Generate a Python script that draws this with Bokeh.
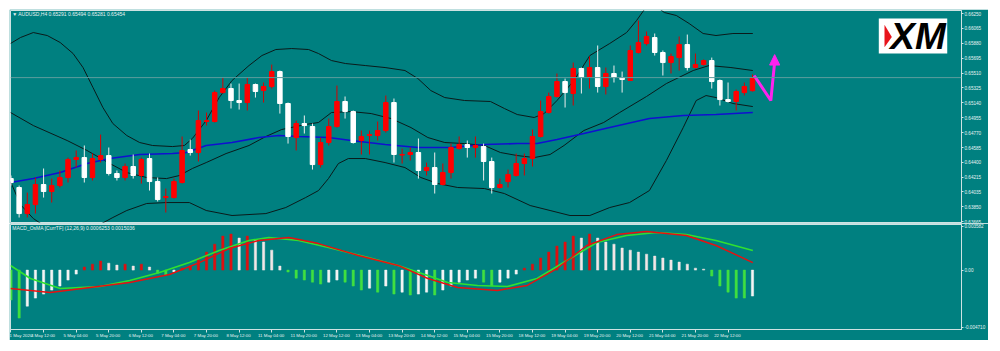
from bokeh.plotting import figure
from bokeh.layouts import column
from bokeh.models import Range1d, FixedTicker, Span, Label, AllLabels, NumeralTickFormatter
from bokeh.embed import file_html
from bokeh.resources import INLINE

# ---------------- data ----------------
opens = [0.64199,0.64088,0.63764,0.63876,0.64125,0.64038,0.64112,0.64212,0.64436,0.64460,
0.64212,0.64436,0.64485,0.64262,0.64212,0.64349,0.64237,0.64448,0.64162,0.63963,
0.63963,0.64150,0.64560,0.64523,0.64908,0.64908,0.65268,0.65318,0.65169,0.65144,
0.65368,0.65293,0.65343,0.65529,0.65132,0.64709,0.64883,0.64846,0.64373,0.64647,
0.64846,0.65157,0.65032,0.64672,0.64734,0.64734,0.64796,0.65144,0.64491,0.64498,
0.64523,0.64299,0.64336,0.64125,0.64274,0.64572,0.64622,0.64585,0.64597,0.64411,
0.64088,0.64162,0.64237,0.64386,0.64448,0.64722,0.65020,0.65219,0.65405,0.65256,
0.65567,0.65455,0.65579,0.65343,0.65505,0.65455,0.65418,0.65766,0.65878,0.65952,
0.65766,0.65641,0.65703,0.65865,0.65579,0.65616,0.65666,0.65418,0.65181,0.65157,
0.65268,0.65291]
highs = [0.64237,0.64112,0.64025,0.64212,0.64324,0.64199,0.64299,0.64460,0.64548,0.64610,
0.64510,0.64746,0.64585,0.64299,0.64386,0.64498,0.64460,0.64510,0.64212,0.64075,
0.64199,0.64722,0.64684,0.65045,0.65020,0.65293,0.65455,0.65380,0.65380,0.65455,
0.65380,0.65393,0.65616,0.65542,0.65144,0.64920,0.64983,0.64883,0.64709,0.64945,
0.65355,0.65219,0.65045,0.64796,0.64796,0.64908,0.65231,0.65194,0.64572,0.64585,
0.64697,0.64398,0.64523,0.64386,0.64634,0.64722,0.64672,0.64722,0.64634,0.64460,
0.64199,0.64311,0.64510,0.64510,0.64809,0.65169,0.65268,0.65505,0.65442,0.65641,
0.65579,0.65716,0.65853,0.65579,0.65604,0.65529,0.65853,0.66163,0.66027,0.66002,
0.65791,0.65753,0.65965,0.65989,0.65753,0.65679,0.65703,0.65430,0.65393,0.65306,
0.65393,0.65494]
lows = [0.64112,0.63715,0.63715,0.63764,0.63963,0.63901,0.64088,0.64150,0.64336,0.64150,
0.64175,0.64398,0.64237,0.64175,0.64175,0.64199,0.64137,0.64050,0.63914,0.63777,
0.63951,0.64137,0.64485,0.64411,0.64858,0.64896,0.65256,0.65070,0.65057,0.65045,
0.65206,0.65144,0.65318,0.65007,0.64634,0.64548,0.64759,0.64311,0.64336,0.64610,
0.64833,0.64945,0.64634,0.64498,0.64498,0.64672,0.64771,0.64398,0.64386,0.64423,
0.64199,0.64237,0.64013,0.64112,0.64199,0.64560,0.64460,0.64460,0.64175,0.64013,
0.64075,0.64088,0.64224,0.64237,0.64349,0.64709,0.65007,0.65206,0.65082,0.65107,
0.65256,0.65318,0.65268,0.65244,0.65393,0.65268,0.65418,0.65753,0.65853,0.65728,
0.65480,0.65505,0.65542,0.65542,0.65567,0.65604,0.65318,0.65107,0.65144,0.65045,
0.65231,0.65281]
closes = [0.64150,0.63764,0.63876,0.64125,0.64038,0.64112,0.64212,0.64436,0.64460,0.64212,
0.64448,0.64485,0.64262,0.64212,0.64349,0.64237,0.64436,0.64162,0.63938,0.63976,
0.64162,0.64548,0.64523,0.64920,0.64920,0.65268,0.65318,0.65169,0.65144,0.65368,
0.65281,0.65343,0.65529,0.65132,0.64722,0.64883,0.64858,0.64373,0.64647,0.64846,
0.65157,0.65032,0.64647,0.64722,0.64746,0.64796,0.65144,0.64498,0.64498,0.64523,
0.64299,0.64336,0.64125,0.64274,0.64585,0.64622,0.64585,0.64610,0.64411,0.64088,
0.64125,0.64249,0.64386,0.64448,0.64722,0.65032,0.65219,0.65405,0.65268,0.65567,
0.65455,0.65579,0.65343,0.65505,0.65455,0.65430,0.65791,0.65890,0.65965,0.65766,
0.65641,0.65716,0.65865,0.65579,0.65616,0.65666,0.65405,0.65181,0.65157,0.65281,
0.65343,0.65454]

upper_x = [-0.06,1.16,2.74,4.45,6.04,7.62,8.84,10.06,11.28,12.5,14.21,15.79,17.38,19.82,21.28,22.26,23.96,25.55,27.13,29.21,30.79,32.5,34.45,36.52,37.74,39.33,41.04,43.48,45.91,48.35,49.94,51.52,53.23,55.67,58.84,60.55,62.13,64.21,65.43,67.01,69.09,71.04,73.48,75.55,76.77,77.99,79.21,80.18,81.65,83.23,84.94,86.52,88.6,91.04]
upper_y = [0.65878,0.65952,0.66014,0.65977,0.65890,0.65753,0.65579,0.65331,0.65082,0.64883,0.64734,0.64647,0.64610,0.64597,0.64610,0.64697,0.64920,0.65206,0.65418,0.65604,0.65728,0.65803,0.65815,0.65803,0.65753,0.65666,0.65629,0.65604,0.65579,0.65542,0.65442,0.65293,0.65206,0.65169,0.65157,0.65070,0.64995,0.64958,0.65007,0.65169,0.65418,0.65728,0.65878,0.66014,0.66163,0.66337,0.66337,0.66263,0.66226,0.66126,0.66002,0.65977,0.66002,0.66002]
middle_x = [-0.06,2.74,6.89,9.33,12.13,14.21,16.65,19.09,20.67,22.26,23.96,26.4,29.21,31.28,33.23,36.16,37.74,39.33,41.77,44.21,46.65,49.09,51.16,53.23,55.67,58.11,60.06,62.13,64.21,66.16,67.87,70.3,72.74,74.7,77.99,80.43,83.72,85.67,88.35,91.04]
middle_y = [0.65020,0.64858,0.64672,0.64548,0.64386,0.64274,0.64212,0.64199,0.64237,0.64324,0.64398,0.64510,0.64610,0.64722,0.64809,0.64871,0.64896,0.65020,0.65032,0.65007,0.64945,0.64833,0.64709,0.64647,0.64634,0.64610,0.64523,0.64485,0.64460,0.64498,0.64610,0.64796,0.64896,0.65020,0.65219,0.65380,0.65542,0.65604,0.65579,0.65542]
lower_x = [-0.06,1.16,2.74,4.21,6.04,9.33,10.91,12.5,14.21,16.65,19.09,21.89,23.96,27.13,31.28,33.72,36.16,37.74,38.96,40.18,41.4,43.48,45.91,48.35,50.3,52.38,54.82,58.11,60.55,63.72,66.16,68.6,71.04,73.48,75.91,78.35,80.43,82.5,84.09,85.3,86.52,88.6,91.04]
lower_y = [0.64162,0.63876,0.63702,0.63603,0.63528,0.63528,0.63628,0.63715,0.63802,0.63889,0.63901,0.63901,0.63802,0.63740,0.63764,0.63839,0.63963,0.64050,0.64199,0.64386,0.64448,0.64448,0.64398,0.64336,0.64212,0.64137,0.64088,0.64075,0.64013,0.63864,0.63802,0.63740,0.63740,0.63839,0.63901,0.64050,0.64423,0.64833,0.65169,0.65231,0.65206,0.65132,0.65094]
ma_x = [-0.06,2.74,6.04,9.33,12.13,15.79,19.82,21.52,23.96,27.13,30.43,32.87,35.3,38.96,41.77,45.91,49.94,53.96,58.11,62.13,64.57,67.01,70.3,73.48,78.35,82.5,86.52,91.04]
ma_y = [0.64150,0.64199,0.64274,0.64386,0.64448,0.64498,0.64510,0.64523,0.64610,0.64647,0.64709,0.64734,0.64722,0.64709,0.64672,0.64622,0.64585,0.64585,0.64622,0.64634,0.64634,0.64684,0.64759,0.64833,0.64945,0.64983,0.64995,0.65020]

hist = [-0.00246,-0.00394,-0.00296,-0.00230,-0.00197,-0.00164,-0.00131,-0.00082,-0.00033,0.00025,
0.00049,0.00074,0.00057,0.00041,0.00049,0.00033,0.00049,0.00025,-0.00025,-0.00041,
-0.00016,0.00016,0.00033,0.00099,0.00148,0.00213,0.00279,0.00296,0.00263,0.00279,
0.00246,0.00230,0.00164,0.00033,-0.00016,-0.00066,-0.00082,-0.00099,-0.00115,-0.00099,
-0.00082,-0.00099,-0.00131,-0.00164,-0.00148,-0.00181,-0.00131,-0.00197,-0.00181,-0.00205,
-0.00197,-0.00181,-0.00205,-0.00164,-0.00131,-0.00099,-0.00082,-0.00066,-0.00099,-0.00131,
-0.00099,-0.00066,-0.00033,0.00016,0.00049,0.00099,0.00148,0.00197,0.00230,0.00279,
0.00263,0.00296,0.00263,0.00230,0.00213,0.00181,0.00164,0.00148,0.00131,0.00115,
0.00099,0.00082,0.00066,0.00049,0.00016,0.00008,-0.00049,-0.00131,-0.00181,-0.00230,
-0.00230,-0.00213]
green_x = [-0.06,2.38,6.04,10.91,14.57,18.23,21.89,25.55,29.21,31.65,35.3,38.96,43.84,47.5,51.16,53.6,57.26,60.91,64.57,68.23,71.89,75.55,79.21,82.87,86.52,91.04]
green_y = [0.00038,-0.00069,-0.00151,-0.00135,-0.00085,-0.00020,0.00062,0.00161,0.00243,0.00268,0.00243,0.00186,0.00103,0.00038,-0.00044,-0.00102,-0.00126,-0.00135,-0.00069,0.00079,0.00227,0.00284,0.00309,0.00292,0.00243,0.00161]
red_x = [-0.06,4.82,9.7,14.57,19.45,23.11,26.77,30.43,34.09,37.74,42.62,47.5,51.16,54.82,59.7,63.35,67.01,70.67,74.33,77.99,82.87,86.52,91.04]
red_y = [-0.00151,-0.00184,-0.00143,-0.00102,-0.00036,0.00062,0.00177,0.00243,0.00268,0.00218,0.00120,0.00038,-0.00069,-0.00143,-0.00167,-0.00126,0.00013,0.00202,0.00292,0.00317,0.00284,0.00202,0.00062]

price_ticks = [0.66250,0.66065,0.65880,0.65695,0.65510,0.65325,0.65140,0.64955,0.64770,0.64585,0.64400,0.64215,0.64035,0.63850,0.63665]
bid_price = 0.65454
time_labels = ["1 May 2020","4 May 12:00","5 May 04:00","5 May 20:00","6 May 12:00","7 May 04:00",
"7 May 20:00","8 May 12:00","11 May 04:00","11 May 20:00","12 May 12:00","13 May 04:00",
"13 May 20:00","14 May 12:00","15 May 04:00","15 May 20:00","18 May 12:00","19 May 04:00",
"19 May 20:00","20 May 12:00","21 May 04:00","21 May 20:00","22 May 12:00"]
macd_ticks = [0.003582, 0.0, -0.00471]
macd_tick_labels = ["0.003582", "0.00", "-0.004710"]
arrow_x = [91.2, 93.25, 93.72]
arrow_y = [0.65480, 0.65169, 0.65650]

# ---------------- styling ----------------
TEAL = "#008080"
LINE = "#cfe2e2"
TXT = "#e6f2f2"
FONT = "Liberation Sans"
n = len(opens)
xs = list(range(n))
up = [c >= o for o, c in zip(opens, closes)]
body_top = [max(o, c) for o, c in zip(opens, closes)]
body_bot = [min(o, c) for o, c in zip(opens, closes)]
body_col = ["#ff0000" if u else "#ffffff" for u in up]
wick_col = ["#d80000" if u else "#eeeeee" for u in up]

xr = Range1d(-0.06, 116.65)

p1 = figure(width=979, height=214, x_range=xr, y_range=Range1d(0.63653, 0.66288),
            output_backend="svg", toolbar_location=None, y_axis_location="right",
            x_axis_location=None, min_border_left=1, min_border_right=21,
            min_border_top=1, min_border_bottom=1,
            background_fill_color=TEAL, border_fill_color=TEAL, outline_line_color=LINE)
p1.margin = (9, 0, 0, 9)
p1.grid.visible = False
ya = p1.yaxis[0]
ya.ticker = FixedTicker(ticks=price_ticks)
ya.formatter = NumeralTickFormatter(format="0.00000")
ya.major_label_text_font = FONT
ya.major_label_text_font_size = "4.6px"
ya.major_label_text_color = TXT
ya.major_label_standoff = 1
ya.major_tick_out = 2
ya.major_tick_in = 0
ya.minor_tick_out = 0
ya.minor_tick_in = 0
ya.axis_line_color = LINE
ya.major_tick_line_color = LINE
ya.major_label_policy = AllLabels()

p1.add_layout(Span(location=bid_price, dimension="width", line_color="#5c9d9d", line_width=1))

p1.line(upper_x, upper_y, line_color="#0a1a1a", line_width=1)
p1.line(middle_x, middle_y, line_color="#0a1a1a", line_width=1)
p1.line(lower_x, lower_y, line_color="#0a1a1a", line_width=1)
p1.line(ma_x, ma_y, line_color="#1010d0", line_width=1.6)

p1.segment(x0=xs, y0=lows, x1=xs, y1=highs, line_color=wick_col, line_width=1)
p1.vbar(x=xs, width=0.55, top=body_top, bottom=body_bot, fill_color=body_col,
        line_color=body_col, line_width=1)

# magenta projection arrow
p1.line(arrow_x, arrow_y, line_color="#ff22ee", line_width=3)
p1.patch([93.1, 93.72, 94.35], [0.65610, 0.65740, 0.65610], fill_color="#ff22ee", line_color="#ff22ee")

# XM logo
p1.quad(left=[106.5], right=[114.9], top=[0.66188], bottom=[0.65753], fill_color="white", line_color=None)
p1.patch([107.2, 107.2, 108.1], [0.66110, 0.65830, 0.65960], fill_color="#e8141c", line_color=None)
p1.add_layout(Label(x=107.9, y=0.65965, text="XM", text_font=FONT, text_font_style="bold italic",
                    text_font_size="37px", text_color="black", text_baseline="middle"))

p1.add_layout(Label(x=0.15, y=0.66250, text="\u25bc AUDUSD,H4  0.65291 0.65494 0.65281 0.65454",
                    text_font=FONT, text_font_size="5px", text_color=TXT, text_baseline="middle"))
p1.add_layout(Label(x=116.65, y=bid_price, text="0.65454", text_font=FONT, text_font_size="4.6px",
                    text_color=TEAL, text_baseline="middle", x_offset=1,
                    background_fill_color="white"))

# ---------------- MACD panel ----------------
hcol = []
for i, h in enumerate(hist):
    prev = hist[i - 1] if i > 0 else h
    if h >= 0:
        hcol.append("#e01010" if h >= prev else "#f2e6e6")
    else:
        hcol.append("#40e040" if h <= prev else "#f4f4f4")

p2 = figure(width=979, height=117, x_range=xr, y_range=Range1d(-0.004877, 0.003744),
            output_backend="svg", toolbar_location=None, y_axis_location="right",
            min_border_left=1, min_border_right=21, min_border_top=1, min_border_bottom=11,
            background_fill_color=TEAL, border_fill_color=TEAL, outline_line_color=LINE)
p2.margin = (0, 0, 0, 9)
p2.grid.visible = False
p2.vbar(x=xs, width=0.28, top=hist, bottom=0, fill_color=hcol, line_color=hcol, line_width=0.5)
p2.line(green_x, green_y, line_color="#30e030", line_width=1.6)
p2.line(red_x, red_y, line_color="#e81010", line_width=1.4)

y2 = p2.yaxis[0]
y2.ticker = FixedTicker(ticks=macd_ticks)
y2.major_label_overrides = {t: s for t, s in zip(macd_ticks, macd_tick_labels)}
y2.major_label_text_font = FONT
y2.major_label_text_font_size = "4.6px"
y2.major_label_text_color = TXT
y2.major_label_standoff = 1
y2.major_tick_out = 2
y2.major_tick_in = 0
y2.minor_tick_out = 0
y2.minor_tick_in = 0
y2.axis_line_color = LINE
y2.major_tick_line_color = LINE

x2 = p2.xaxis[0]
tpos = [4 * i for i in range(len(time_labels))]
x2.ticker = FixedTicker(ticks=tpos)
x2.major_label_overrides = {t: " " + s for t, s in zip(tpos, time_labels)}
x2.major_label_text_align = "left"
x2.major_label_text_font = FONT
x2.major_label_text_font_size = "4.4px"
x2.major_label_text_color = TXT
x2.major_label_standoff = 0
x2.major_tick_out = 3
x2.major_tick_in = 0
x2.minor_tick_out = 0
x2.minor_tick_in = 0
x2.axis_line_color = LINE
x2.major_tick_line_color = LINE
x2.major_label_policy = AllLabels()

p2.add_layout(Label(x=0.15, y=0.00342, text="MACD_OsMA [CurrTF] (12,26,9) 0.0006253 0.0015036",
                    text_font=FONT, text_font_size="5px", text_color=TXT, text_baseline="middle"))

layout = column(p1, p2, spacing=0)
open("out.html", "w").write(file_html(layout, INLINE))
